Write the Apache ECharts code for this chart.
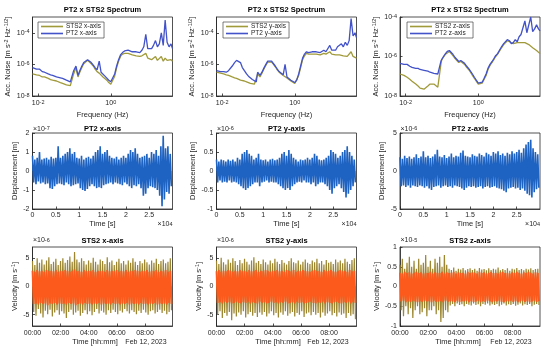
<!DOCTYPE html>
<html><head><meta charset="utf-8">
<script src="https://cdn.jsdelivr.net/npm/echarts@6/dist/echarts.min.js"></script>
<style>html,body{margin:0;padding:0;background:#fff}#c{width:550px;height:350px}</style>
</head><body><div id="c"></div>
<script>
// ---------- spectra (Hz, m s^-2 Hz^-1/2) ----------
const freqHz = [0.007,0.009,0.010,0.011,0.013,0.015,0.017,0.019,0.022,0.025,
0.028,0.032,0.036,0.041,0.047,0.053,0.060,0.068,0.077,0.087,
0.095,0.10,0.11,0.125,0.14,0.16,0.18,0.20,0.23,0.26,
0.29,0.33,0.37,0.42,0.48,0.54,0.61,0.69,0.78,0.88,
1.0,1.13,1.28,1.45,1.64,1.85,2.1,2.4,2.7,3.0,
3.4,3.9,4.4,5.0,5.6,6.3,7.2,8.1,9.2,10.4,
11.8,13.3,15.0,17.0,19.2,21.7,24.6,27.8,31.4,35.5,
40.2,45.4,50];
const pt2XSpec = [6.3e-7,5.0e-7,4.5e-7,5.0e-7,3.5e-7,3.2e-7,2.8e-7,2.5e-7,2.2e-7,2.0e-7,
1.8e-7,1.6e-7,1.6e-7,1.4e-7,1.3e-7,1.1e-7,1.0e-7,1.0e-7,7.9e-8,7.9e-8,
4.0e-7,3.2e-7,7.9e-7,2.0e-7,4.0e-7,7.9e-7,1.3e-6,1.6e-6,2.0e-6,1.8e-6,
1.3e-6,8.9e-7,6.3e-7,4.5e-7,1.6e-6,3.2e-7,2.5e-7,1.8e-7,1.4e-7,1.0e-7,
7.9e-8,7.9e-8,2.5e-7,7.9e-7,2.0e-6,4.0e-6,5.6e-6,7.1e-6,6.3e-6,7.9e-6,
7.1e-6,6.3e-6,7.9e-6,6.3e-6,7.1e-6,5.6e-6,7.9e-6,1.3e-5,7.9e-5,1.0e-5,
1.3e-5,1.0e-5,1.6e-5,3.2e-5,1.3e-5,2.0e-5,1.0e-4,1.6e-5,6.3e-4,2.5e-5,
1.3e-5,2.0e-5,1.0e-5];
const sts2XSpec = [2.5e-7,2.2e-7,2.0e-7,2.0e-7,1.6e-7,1.6e-7,1.4e-7,1.3e-7,1.1e-7,1.0e-7,
1.0e-7,8.9e-8,7.9e-8,7.1e-8,6.3e-8,5.6e-8,5.0e-8,5.0e-8,4.5e-8,4.5e-8,
2.5e-7,2.0e-7,6.3e-7,1.6e-7,3.2e-7,6.3e-7,1.1e-6,1.4e-6,1.8e-6,1.6e-6,
1.1e-6,7.9e-7,5.0e-7,3.5e-7,2.8e-7,2.2e-7,1.6e-7,1.3e-7,1.0e-7,7.1e-8,
5.6e-8,5.6e-8,1.8e-7,6.3e-7,1.6e-6,3.2e-6,4.5e-6,5.0e-6,4.5e-6,5.0e-6,
4.5e-6,4.0e-6,4.5e-6,3.5e-6,4.0e-6,3.2e-6,3.5e-6,3.2e-6,5.0e-6,2.5e-6,
2.8e-6,2.0e-6,2.5e-6,3.2e-6,1.8e-6,2.0e-6,3.2e-6,1.6e-6,2.5e-6,1.8e-6,
1.4e-6,2.0e-6,1.6e-6];
const pt2YSpec = [4.0e-7,3.5e-7,4.0e-7,3.5e-7,3.2e-7,4.0e-7,5.0e-7,7.9e-7,1.3e-6,1.8e-6,
2.0e-6,1.3e-6,6.3e-7,4.0e-7,2.5e-7,1.8e-7,1.4e-7,1.1e-7,8.9e-8,7.9e-8,
3.2e-7,2.8e-7,2.0e-7,3.2e-7,5.6e-7,1.0e-6,1.6e-6,1.8e-6,1.6e-6,1.1e-6,
7.9e-7,5.0e-7,3.5e-7,2.8e-7,2.2e-7,1.0e-6,1.6e-7,1.3e-7,1.0e-7,7.9e-8,
7.1e-8,1.0e-7,2.5e-7,7.9e-7,2.5e-6,4.5e-6,6.3e-6,5.6e-6,7.1e-6,6.3e-6,
7.9e-6,6.3e-6,7.1e-6,5.6e-6,6.3e-6,7.9e-6,6.3e-6,7.9e-6,1.6e-5,7.9e-6,
1.0e-5,7.9e-6,1.3e-5,1.0e-5,2.0e-5,1.3e-5,2.5e-5,1.6e-5,3.2e-5,7.9e-4,
6.3e-5,1.0e-4,5.0e-5];
const sts2YSpec = [3.2e-7,2.8e-7,2.5e-7,2.5e-7,2.2e-7,2.0e-7,1.8e-7,1.6e-7,1.4e-7,1.3e-7,
1.1e-7,1.0e-7,1.0e-7,8.9e-8,7.9e-8,7.1e-8,6.3e-8,6.3e-8,5.6e-8,5.0e-8,
2.5e-7,2.2e-7,1.6e-7,2.8e-7,5.0e-7,8.9e-7,1.4e-6,1.6e-6,1.4e-6,1.0e-6,
7.1e-7,4.5e-7,3.2e-7,2.5e-7,2.0e-7,1.8e-7,1.4e-7,1.1e-7,8.9e-8,7.1e-8,
6.3e-8,7.9e-8,2.0e-7,6.3e-7,2.0e-6,3.5e-6,5.0e-6,4.5e-6,5.0e-6,4.5e-6,
5.0e-6,4.5e-6,5.0e-6,4.0e-6,4.5e-6,5.0e-6,4.5e-6,5.0e-6,6.3e-6,4.5e-6,
5.0e-6,4.0e-6,4.5e-6,4.0e-6,5.0e-6,3.5e-6,4.0e-6,3.2e-6,4.0e-6,6.3e-6,
3.2e-6,3.5e-6,2.5e-6];
const pt2ZSpec = [4.5e-7,4.0e-7,3.5e-7,4.0e-7,3.2e-7,2.8e-7,2.8e-7,2.5e-7,2.5e-7,2.2e-7,
2.0e-7,2.0e-7,1.8e-7,1.8e-7,1.6e-7,1.6e-7,1.4e-7,1.4e-7,1.3e-7,1.1e-7,
6.3e-7,7.9e-7,1.0e-6,1.4e-6,1.8e-6,2.0e-6,1.6e-6,1.3e-6,8.9e-7,7.1e-7,
5.6e-7,6.3e-7,5.6e-7,4.5e-7,3.2e-7,2.5e-7,1.8e-7,1.3e-7,8.9e-8,6.3e-8,
4.5e-8,4.0e-8,5.0e-8,7.9e-8,1.3e-7,2.5e-7,4.0e-7,5.6e-7,7.9e-7,1.1e-6,
1.4e-6,2.2e-6,3.2e-6,4.5e-6,5.6e-6,7.1e-6,6.3e-6,4.5e-6,5.0e-6,7.1e-6,
5.6e-6,1.0e-5,1.3e-5,1.1e-5,6.3e-5,1.6e-5,2.0e-5,1.0e-4,1.8e-5,2.5e-5,
4.0e-5,2.5e-5,2.0e-5];
const sts2ZSpec = [1.3e-7,1.1e-7,1.0e-7,8.9e-8,7.1e-8,5.6e-8,5.0e-8,4.0e-8,3.2e-8,2.5e-8,
2.2e-8,2.2e-8,2.5e-8,3.2e-8,4.0e-8,4.5e-8,4.0e-8,3.2e-8,2.8e-8,3.2e-8,
5.0e-7,7.1e-7,8.9e-7,1.3e-6,1.6e-6,1.8e-6,1.4e-6,1.1e-6,7.9e-7,6.3e-7,
5.0e-7,5.6e-7,5.0e-7,4.0e-7,2.8e-7,2.2e-7,1.6e-7,1.1e-7,7.9e-8,5.6e-8,
4.0e-8,3.5e-8,4.5e-8,7.1e-8,1.1e-7,2.2e-7,3.5e-7,5.0e-7,7.1e-7,1.0e-6,
1.3e-6,2.0e-6,2.8e-6,4.0e-6,5.0e-6,6.3e-6,5.6e-6,4.5e-6,4.5e-6,5.6e-6,
5.0e-6,5.6e-6,5.0e-6,4.5e-6,5.0e-6,4.0e-6,4.0e-6,3.2e-6,2.8e-6,2.5e-6,
2.0e-6,1.8e-6,1.4e-6];

// ---------- PT2 displacement: successive peaks / troughs (axis units shown) ----------
const pt2PeakSpacingS = 500;
const pt2XUpper = [0.8,0.6,0.7,1.0,0.6,0.65,0.7,0.6,0.75,0.65,0.7,1.3,0.7,0.8,0.9,1.0,1.2,0.9,1.0,0.7,
0.65,0.8,0.6,0.7,0.75,0.65,0.8,1.0,1.1,1.3,0.9,1.0,1.1,0.8,0.7,0.65,0.75,0.6,0.7,0.8,
0.7,0.9,1.1,1.0,1.2,0.9,0.7,0.75,0.8,0.9,0.7,1.0,0.9,1.1,0.8,1.3,1.85,1.2,1.3,0.9];
const pt2XLower = [-0.6,-0.7,-0.55,-0.65,-0.6,-0.7,-0.65,-0.9,-0.95,-0.8,-0.7,-0.65,-0.7,-0.75,-0.6,-0.7,-0.8,-0.75,-0.7,-0.65,
-0.9,-1.0,-1.05,-0.95,-0.8,-0.7,-0.8,-0.9,-0.85,-0.9,-0.75,-0.7,-0.65,-0.6,-0.7,-0.6,-0.65,-0.7,-0.75,-0.6,
-0.7,-0.8,-0.9,-0.75,-0.8,-0.7,-0.9,-1.3,-1.2,-0.9,-0.8,-0.85,-0.9,-1.0,-1.3,-1.85,-1.5,-1.1,-1.2,-0.8];
const pt2YUpper = [0.3,0.25,0.3,0.28,0.25,0.3,0.27,0.3,0.25,0.35,0.3,0.45,0.5,0.55,0.45,0.4,0.3,0.35,0.45,0.3,
0.28,0.3,0.25,0.3,0.32,0.28,0.3,0.35,0.45,0.5,0.4,0.55,0.45,0.35,0.3,0.25,0.3,0.28,0.3,0.35,
0.3,0.35,0.45,0.4,0.3,0.28,0.3,0.35,0.4,0.55,0.5,0.45,0.35,0.4,0.5,0.55,0.65,0.5,0.4,0.3];
const pt2YLower = [-0.3,-0.25,-0.3,-0.28,-0.3,-0.25,-0.3,-0.28,-0.3,-0.35,-0.4,-0.45,-0.5,-0.45,-0.4,-0.35,-0.3,-0.3,-0.4,-0.3,
-0.28,-0.25,-0.3,-0.28,-0.3,-0.3,-0.35,-0.4,-0.45,-0.5,-0.45,-0.5,-0.4,-0.35,-0.3,-0.28,-0.3,-0.25,-0.3,-0.3,
-0.35,-0.3,-0.4,-0.35,-0.3,-0.3,-0.35,-0.4,-0.5,-0.6,-0.45,-0.4,-0.35,-0.45,-0.55,-0.7,-0.6,-0.5,-0.4,-0.3];
const pt2ZUpper = [1.8,1.6,2.0,1.7,1.9,1.6,1.8,2.2,1.7,1.9,2.6,1.8,2.0,1.7,1.9,2.2,2.8,1.9,1.8,2.1,
1.7,1.9,2.3,1.8,2.0,1.9,2.4,2.7,2.0,1.9,1.8,2.2,2.0,1.9,2.3,2.1,1.9,2.4,2.2,2.0,
2.5,2.3,2.6,2.1,2.3,2.0,2.4,2.2,2.6,2.3,2.5,2.8,2.4,3.0,3.5,3.8,4.1,3.0,2.5,2.2];
const pt2ZLower = [-2.0,-1.9,-2.1,-1.9,-2.2,-1.9,-2.0,-2.1,-1.9,-2.0,-2.2,-2.0,-2.3,-2.5,-2.1,-2.0,-1.9,-2.2,-2.0,-1.9,
-2.1,-2.0,-2.2,-1.9,-2.0,-2.1,-2.3,-2.5,-2.2,-2.0,-2.1,-2.0,-2.2,-2.1,-2.0,-2.3,-2.1,-2.0,-2.2,-2.1,
-2.0,-2.2,-2.3,-2.4,-2.6,-2.8,-2.3,-2.2,-2.1,-2.3,-2.2,-2.5,-2.3,-2.6,-3.0,-3.2,-3.5,-2.8,-2.4,-2.2];

// ---------- STS2 velocity: successive peaks / troughs (axis units shown) ----------
const sts2PeakSpacingH = 0.166;
const sts2XRawUpper = [4.5,3.8,5.0,4.2,4.8,3.9,4.6,5.2,4.0,4.4,4.9,3.8,4.5,5.0,4.2,4.7,5.3,4.4,6.1,4.8,
4.3,5.0,4.5,3.9,4.6,4.2,5.1,4.4,3.9,4.8,4.5,4.0,5.2,4.3,4.6,3.8,4.4,4.9,4.1,4.5,
3.9,4.6,4.2,5.0,4.4,3.8,4.5,4.1,4.8,4.3,3.9,4.6,4.2,4.9,4.0,4.5,4.8,4.1,4.4,5.0];
const sts2XRawLower = [-4.5,-5.2,-4.0,-4.8,-5.5,-4.3,-4.9,-4.1,-5.3,-4.6,-4.2,-5.0,-4.4,-4.8,-5.6,-4.5,-4.1,-5.0,-4.6,-4.3,
-5.2,-4.7,-4.2,-4.9,-4.4,-5.1,-4.5,-4.0,-4.8,-4.3,-4.6,-5.0,-4.2,-4.7,-4.1,-4.5,-4.9,-4.3,-4.6,-4.0,
-4.4,-4.8,-4.2,-4.5,-4.9,-4.3,-4.7,-4.1,-4.6,-5.0,-4.4,-4.2,-4.8,-4.5,-4.1,-4.7,-4.3,-4.9,-4.5,-4.2];
const sts2XUpper = [2.8,2.6,2.9,2.7,2.8,2.6,2.9,2.7,2.8,2.7,2.9,2.6,2.8,2.7,2.9,2.8,2.6,2.8,3.0,2.7,
2.8,2.6,2.9,2.7,2.8,2.7,2.9,2.6,2.8,2.7,2.8,2.6,2.9,2.7,2.8,2.7,2.9,2.6,2.8,2.7,
2.9,2.6,2.8,2.7,2.9,2.8,2.6,2.8,2.7,2.9,2.6,2.8,2.7,2.9,2.6,2.8,2.7,2.9,2.6,2.8];
const sts2XLower = [-3.1,-3.0,-3.2,-2.9,-3.1,-3.0,-3.3,-3.0,-3.1,-2.9,-3.2,-3.0,-3.1,-3.0,-3.2,-2.9,-3.1,-3.0,-3.3,-3.1,
-3.0,-3.2,-2.9,-3.1,-3.0,-3.2,-3.0,-3.1,-2.9,-3.2,-3.0,-3.1,-3.0,-3.2,-2.9,-3.1,-3.0,-3.2,-3.0,-3.1,
-2.9,-3.2,-3.0,-3.1,-3.0,-3.2,-2.9,-3.1,-3.0,-3.2,-3.0,-3.1,-2.9,-3.2,-3.0,-3.1,-3.0,-3.2,-2.9,-3.1];
const sts2YRawUpper = [4.6,4.0,5.1,4.3,3.9,4.8,4.2,5.0,4.5,3.8,4.7,4.1,4.9,4.4,3.9,4.6,5.2,4.2,4.5,4.0,
4.8,4.3,3.9,4.6,4.1,4.9,4.4,4.0,4.7,4.2,3.9,4.5,5.0,4.3,4.1,4.6,3.9,4.4,4.8,4.2,
4.0,4.6,4.3,4.9,4.1,4.5,3.9,4.7,4.2,4.4,4.0,4.8,4.3,4.6,4.1,4.9,4.4,4.0,4.7,5.0];
const sts2YRawLower = [-5.0,-4.4,-5.6,-4.7,-5.2,-4.5,-6.0,-4.8,-5.3,-4.6,-5.0,-4.4,-5.5,-4.9,-4.5,-5.2,-4.7,-5.4,-4.6,-5.0,
-4.5,-5.3,-4.8,-4.4,-5.1,-4.7,-5.5,-4.6,-5.0,-4.4,-5.2,-4.8,-4.5,-5.3,-4.7,-5.0,-4.4,-5.4,-4.8,-4.6,
-5.1,-4.5,-5.0,-4.7,-5.5,-4.6,-5.2,-4.8,-4.4,-5.1,-4.7,-5.3,-4.6,-5.0,-4.8,-5.6,-4.7,-5.2,-4.9,-5.8];
const sts2YUpper = [2.7,2.9,2.6,2.8,2.7,2.9,2.8,2.6,2.8,2.7,2.9,2.7,2.8,2.6,2.9,2.7,2.8,2.9,2.6,2.8,
2.7,2.9,2.8,2.6,2.8,2.7,2.9,2.7,2.8,2.6,2.9,2.8,2.7,2.9,2.6,2.8,2.7,2.9,2.8,2.7,
2.6,2.8,2.9,2.7,2.8,2.6,2.9,2.7,2.8,2.9,2.7,2.6,2.8,2.9,2.7,2.8,2.6,2.9,2.7,2.8];
const sts2YLower = [-2.9,-2.8,-3.0,-2.7,-2.9,-2.8,-3.0,-2.9,-2.7,-2.9,-3.0,-2.8,-2.9,-2.7,-3.0,-2.8,-2.9,-3.0,-2.7,-2.9,
-2.8,-3.0,-2.9,-2.7,-2.9,-2.8,-3.0,-2.8,-2.9,-2.7,-3.0,-2.9,-2.8,-3.0,-2.7,-2.9,-2.8,-3.0,-2.9,-2.8,
-2.7,-2.9,-3.0,-2.8,-2.9,-2.7,-3.0,-2.8,-2.9,-3.0,-2.8,-2.7,-2.9,-3.0,-2.8,-2.9,-2.7,-3.0,-2.8,-2.9];
const sts2ZRawUpper = [0.55,0.7,0.45,0.6,0.75,0.5,0.65,0.45,0.7,0.55,0.6,0.8,0.5,0.65,0.45,0.7,0.6,0.75,0.5,0.8,
0.55,0.45,0.42,0.48,0.4,0.45,0.43,0.47,0.41,0.44,0.46,0.42,0.45,0.4,0.47,0.43,0.44,0.41,0.46,0.42,
0.45,0.43,0.48,0.41,0.44,0.42,0.46,0.4,0.45,0.43,0.47,0.42,0.44,0.41,0.45,0.43,0.46,0.42,0.44,0.45];
const sts2ZRawLower = [-0.6,-0.75,-0.5,-0.7,-0.55,-0.8,-0.6,-0.5,-0.7,-0.65,-0.55,-0.75,-0.6,-0.6,-0.5,-0.7,-0.6,-0.9,-0.8,-0.6,
-0.65,-0.48,-0.44,-0.5,-0.43,-0.47,-0.45,-0.5,-0.44,-0.46,-0.48,-0.43,-0.47,-0.45,-0.5,-0.44,-0.46,-0.43,-0.48,-0.45,
-0.47,-0.44,-0.5,-0.46,-0.43,-0.48,-0.45,-0.47,-0.44,-0.49,-0.46,-0.43,-0.48,-0.45,-0.47,-0.44,-0.5,-0.46,-0.44,-0.47];
const sts2ZUpper = [0.35,0.33,0.37,0.34,0.36,0.33,0.35,0.37,0.34,0.36,0.33,0.35,0.34,0.37,0.33,0.36,0.35,0.34,0.37,0.33,
0.36,0.34,0.35,0.37,0.33,0.36,0.34,0.35,0.33,0.37,0.34,0.36,0.35,0.33,0.37,0.34,0.36,0.33,0.35,0.37,
0.34,0.35,0.33,0.36,0.37,0.34,0.35,0.33,0.36,0.34,0.37,0.35,0.33,0.36,0.34,0.37,0.35,0.33,0.36,0.34];
const sts2ZLower = [-0.38,-0.36,-0.40,-0.37,-0.39,-0.36,-0.38,-0.40,-0.37,-0.39,-0.36,-0.38,-0.37,-0.40,-0.36,-0.39,-0.38,-0.37,-0.40,-0.36,
-0.39,-0.37,-0.38,-0.40,-0.36,-0.39,-0.37,-0.38,-0.36,-0.40,-0.37,-0.39,-0.38,-0.36,-0.40,-0.37,-0.39,-0.36,-0.38,-0.40,
-0.37,-0.38,-0.36,-0.39,-0.40,-0.37,-0.38,-0.36,-0.39,-0.37,-0.40,-0.38,-0.36,-0.39,-0.37,-0.40,-0.38,-0.36,-0.39,-0.37];

// ---------- ticks ----------
const freqTicks = [0.01, 1];
const accTicks = [1e-8, 1e-6, 1e-4];
const accTickLabels = ['10{sup|-8}', '10{sup|-6}', '10{sup|-4}'];
const freqTickLabels = ['10{sup|-2}', '10{sup|0}'];
const timeTicksS = [0,5000,10000,15000,20000,25000];
const timeTickLabels = ['0','0.5','1','1.5','2','2.5'];
const clockTicksH = [0,2,4,6,8];
const clockTickLabels = ['00:00','02:00','04:00','06:00','08:00'];

// ---------- styling ----------
const FONT = "'Liberation Sans', Arial, Helvetica, sans-serif";
const INK = '#262626';
const STS_C = '#a19a3a', PT2_C = '#4252c8', DISP_C = '#1f63c2', ORANGE = '#fb5a1c', OLIVE = '#9c8630';
const colL = [32.5, 216.5, 400], colW = 140;
const rowT = [17, 133, 247], rowH = [79, 76, 79];
const supRich = { sup: { fontSize: 5.5, fontFamily: FONT, color: INK, verticalAlign: 'top', lineHeight: 5.5 } };

function pairs(xs, ys) { return xs.map((x, i) => [x, ys[i]]); }
function zigzag(up, dn, step) {
  const out = [];
  for (let i = 0; i < up.length; i++) { out.push([i * step, up[i]]); out.push([(i + 0.5) * step, dn[i]]); }
  return out;
}
function nearestIdx(arr, v) {
  let b = 0; for (let i = 1; i < arr.length; i++) if (Math.abs(arr[i] - v) < Math.abs(arr[b] - v)) b = i; return b;
}
function axis(o) {
  return {
    type: o.type || 'value', gridIndex: o.grid, logBase: 10, min: o.min, max: o.max, interval: o.interval,
    name: o.name || '', nameLocation: 'middle', nameGap: o.nameGap || 10,
    nameTextStyle: { color: INK, fontSize: 7.5, fontFamily: FONT, lineHeight: 9, rich: supRich },
    axisLine: { show: true, onZero: false, lineStyle: { color: INK, width: 0.8 } },
    axisTick: { show: true, inside: true, length: 2.5, lineStyle: { color: INK, width: 0.8 }, customValues: o.ticks },
    axisLabel: { show: true, color: INK, fontSize: 7, fontFamily: FONT, margin: o.margin || 3, lineHeight: 8,
      rich: supRich, customValues: o.ticks, formatter: o.formatter },
    splitLine: { show: false }, minorTick: { show: false }
  };
}

const grids = [], xAxes = [], yAxes = [];
for (let r = 0; r < 3; r++) for (let c = 0; c < 3; c++) {
  grids.push({ left: colL[c], top: rowT[r], width: colW, height: rowH[r], show: true,
    borderColor: INK, borderWidth: 0.8, backgroundColor: '#fff' });
}
const yNameGaps = [[20,18,18],[12,17.5,11],[10,10,16]];
for (let c = 0; c < 3; c++) {
  xAxes.push(axis({ grid: c, type: 'log', min: 0.007, max: 50, ticks: freqTicks,
    formatter: v => freqTickLabels[nearestIdx(freqTicks, v)], name: 'Frequency (Hz)', nameGap: 14 }));
  yAxes.push(axis({ grid: c, type: 'log', min: 1e-8, max: c === 2 ? 1e-4 : 1e-3, ticks: accTicks,
    formatter: v => accTickLabels[nearestIdx(accTicks.map(Math.log10), Math.log10(v))],
    name: 'Acc. Noise [m s{sup|-2} Hz{sup|-1/2}]', nameGap: yNameGaps[0][c] }));
}
const dispRanges = [[-2, 2, 1], [-1, 1, 0.5], [-5, 5, 5]];
for (let c = 0; c < 3; c++) {
  xAxes.push(axis({ grid: 3 + c, min: 0, max: 29990, ticks: timeTicksS, margin: 2,
    formatter: v => timeTickLabels[nearestIdx(timeTicksS, v)], name: 'Time [s]', nameGap: 10 }));
  yAxes.push(axis({ grid: 3 + c, min: dispRanges[c][0], max: dispRanges[c][1], interval: dispRanges[c][2],
    name: 'Displacement [m]', nameGap: yNameGaps[1][c] }));
}
for (let c = 0; c < 3; c++) {
  xAxes.push(axis({ grid: 6 + c, min: 0, max: 9.95, ticks: clockTicksH, margin: 3,
    formatter: v => clockTickLabels[nearestIdx(clockTicksH, v)] }));
  if (c < 2) yAxes.push(axis({ grid: 6 + c, min: -7, max: 7, ticks: [-5, 0, 5],
    name: 'Velocity [m s{sup|-1}]', nameGap: yNameGaps[2][c] }));
  else yAxes.push(axis({ grid: 8, min: -1, max: 1, interval: 0.5,
    name: 'Velocity [m s{sup|-1}]', nameGap: yNameGaps[2][c] }));
}

const series = [];
const specSets = [[sts2XSpec, pt2XSpec, 'x'], [sts2YSpec, pt2YSpec, 'y'], [sts2ZSpec, pt2ZSpec, 'z']];
specSets.forEach((s, c) => {
  series.push({ type: 'line', name: 'STS2 ' + s[2] + '-axis', xAxisIndex: c, yAxisIndex: c, data: pairs(freqHz, s[0]),
    color: STS_C, lineStyle: { color: STS_C, width: 1.3 }, symbol: 'none', z: 2 });
  series.push({ type: 'line', name: 'PT2 ' + s[2] + '-axis', xAxisIndex: c, yAxisIndex: c, data: pairs(freqHz, s[1]),
    color: PT2_C, lineStyle: { color: PT2_C, width: 1.3 }, symbol: 'none', z: 3 });
});
[[pt2XUpper, pt2XLower], [pt2YUpper, pt2YLower], [pt2ZUpper, pt2ZLower]].forEach((s, c) => {
  series.push({ type: 'line', name: 'PT2 disp ' + c, xAxisIndex: 3 + c, yAxisIndex: 3 + c,
    data: zigzag(s[0], s[1], pt2PeakSpacingS), color: DISP_C, lineStyle: { color: DISP_C, width: 1.6 },
    areaStyle: { color: DISP_C, opacity: 1 }, symbol: 'none' });
});
[[sts2XRawUpper, sts2XRawLower, sts2XUpper, sts2XLower], [sts2YRawUpper, sts2YRawLower, sts2YUpper, sts2YLower],
 [sts2ZRawUpper, sts2ZRawLower, sts2ZUpper, sts2ZLower]].forEach((s, c) => {
  series.push({ type: 'line', name: 'STS2 raw ' + c, xAxisIndex: 6 + c, yAxisIndex: 6 + c,
    data: zigzag(s[0], s[1], sts2PeakSpacingH), color: OLIVE, lineStyle: { color: OLIVE, width: 1.2 },
    areaStyle: { color: OLIVE, opacity: 1 }, symbol: 'none', z: 2 });
  series.push({ type: 'line', name: 'STS2 vel ' + c, xAxisIndex: 6 + c, yAxisIndex: 6 + c,
    data: zigzag(s[2], s[3], sts2PeakSpacingH), color: ORANGE, lineStyle: { color: ORANGE, width: 1.8 },
    areaStyle: { color: ORANGE, opacity: 1 }, symbol: 'none', z: 3 });
});

const legendPos = [[38, 22], [223, 22], [407, 22]];
const legends = ['x', 'y', 'z'].map((a, c) => ({
  data: ['STS2 ' + a + '-axis', 'PT2 ' + a + '-axis'], orient: 'vertical', left: legendPos[c][0], top: legendPos[c][1],
  icon: 'rect', itemWidth: 22, itemHeight: 1.6, itemGap: 0, padding: [1, 3, 1, 3],
  backgroundColor: '#fff', borderColor: INK, borderWidth: 0.6, selectedMode: false,
  textStyle: { fontSize: 6.5, fontFamily: FONT, color: INK, padding: [0, 0, 0, -2] }
}));

function txt(x, y, text, o) {
  o = o || {};
  return { type: 'text', x: x, y: y, z: 100, silent: true, style: { text: text, fontSize: o.size || 7.5,
    fontWeight: o.bold ? 'bold' : 'normal', fontFamily: FONT, fill: o.color || INK, align: o.align || 'center',
    verticalAlign: 'middle', rich: supRich } };
}
const graphics = [];
const rowTitles = [['PT2 x STS2 Spectrum', 'PT2 x STS2 Spectrum', 'PT2 x STS2 Spectrum'],
  ['PT2 x-axis', 'PT2 y-axis', 'PT2 z-axis'], ['STS2 x-axis', 'STS2 y-axis', 'STS2 z-axis']];
const titleY = [10, 128.5, 240.5];
for (let r = 0; r < 3; r++) for (let c = 0; c < 3; c++)
  graphics.push(txt(colL[c] + colW / 2, titleY[r], rowTitles[r][c], { bold: true, color: '#000' }));
const expMid = ['×10{sup|-7}', '×10{sup|-6}', '×10{sup|-6}'];
const expBot = ['×10{sup|-6}', '×10{sup|-6}', '×10{sup|-5}'];
for (let c = 0; c < 3; c++) {
  graphics.push(txt(colL[c] + 0.5, 129, expMid[c], { align: 'left', size: 7 }));
  graphics.push(txt(colL[c] + 0.5, 240.5, expBot[c], { align: 'left', size: 7 }));
  graphics.push(txt(colL[c] + colW, 224.5, '×10{sup|4}', { align: 'right', size: 7 }));
}
const timeNameX = [95, 278, 458], dateX = [146, 328, 511];
for (let c = 0; c < 3; c++) {
  graphics.push(txt(timeNameX[c], 342, 'Time [hh:mm]'));
  graphics.push(txt(dateX[c], 342, 'Feb 12, 2023', { size: 7 }));
}

const chart = echarts.init(document.getElementById('c'), null, { renderer: 'canvas' });
chart.setOption({
  animation: false, backgroundColor: '#fff',
  grid: grids, xAxis: xAxes, yAxis: yAxes, series: series, legend: legends, graphic: graphics
});
</script></body></html>
